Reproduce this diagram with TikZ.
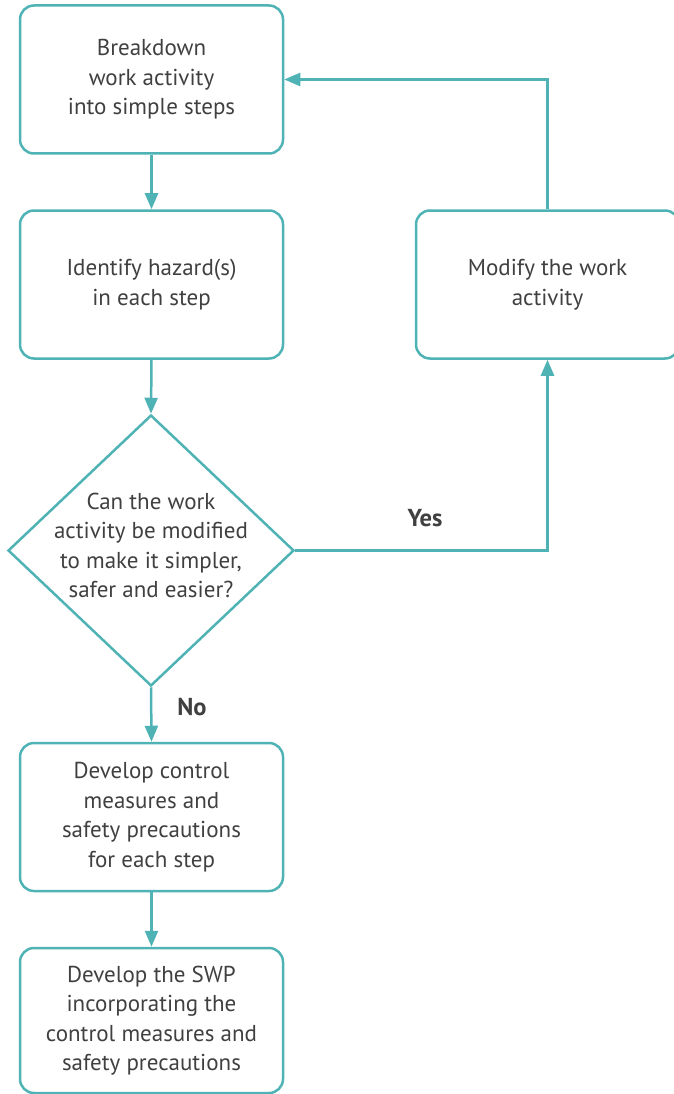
\documentclass[tikz,border=0pt]{standalone}
\usepackage{fontspec}
\setmainfont{PT Sans}
\usetikzlibrary{shapes.geometric,arrows.meta}
\definecolor{tealc}{HTML}{4FB3B5}
\definecolor{txt}{HTML}{404040}
\begin{document}
\begin{tikzpicture}[x=1pt,y=-1pt,
  box/.style={draw=tealc, line width=2.5pt, rounded corners=14pt, minimum width=263pt, minimum height=148pt, inner sep=0pt},
  boxtext/.style={align=center, text=txt, font=\fontsize{23}{29.5}\selectfont, inner sep=0pt},
  dia/.style={draw=tealc, line width=2.5pt, diamond, inner sep=0pt, minimum width=286pt, minimum height=271pt},
  lab/.style={text=txt, font=\bfseries\fontsize{24.5}{28}\selectfont, inner sep=0pt},
  conn/.style={draw=tealc, line width=2.5pt, -{Triangle[length=16pt,width=13pt]}}
]
\useasboundingbox (0,0) rectangle (674,1094);
\node[box] (b1) at (151.5,79.5) {};
\node[boxtext] at (b1) {Breakdown\\work activity\\into simple steps};
\node[box] (b2) at (151.5,284.5) {};
\node[boxtext] at (b2) {Identify hazard(s)\\in each step};
\node[box] (mod) at (547.5,284.5) {};
\node[boxtext] at (mod) {Modify the work\\activity};
\node[dia] (d) at (151,550.5) {};
\node[boxtext] at (151,545.5) {Can the work\\activity be modified\\to make it simpler,\\safer and easier?};
\node[box] (b3) at (151.5,817) {};
\node[boxtext] at (b3) {Develop control\\measures and\\safety precautions\\for each step};
\node[box, minimum height=145pt] (b4) at (151.5,1020.5) {};
\node[boxtext] at (b4) {Develop the SWP\\incorporating the\\control measures and\\safety precautions};
\coordinate (tr) at (mod.north |- b1.east);
\coordinate (br) at (mod.south |- d.east);
\draw[conn] (b1.south) -- (b2.north);
\draw[conn] (b2.south) -- (d.north);
\draw[conn] (d.south) -- (b3.north);
\draw[conn] (b3.south) -- (b4.north);
\draw[conn] (d.east) -- (br) -- (mod.south);
\draw[conn] (mod.north) -- (tr) -- (b1.east);
\node[lab] (yes) at (425,518) {Yes};
\node[lab] (no) at (192,707) {No};
\end{tikzpicture}
\end{document}
